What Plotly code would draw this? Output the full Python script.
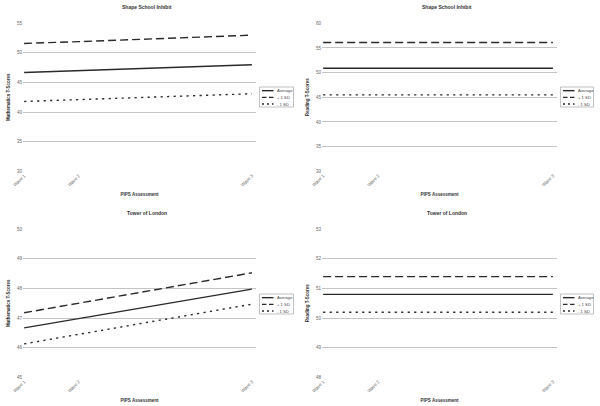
import plotly.graph_objects as go
from plotly.subplots import make_subplots

# ---- data ----
wave_labels = ["Wave 1", "Wave 2", "Wave 3"]
wave_pos = [0, 0.24, 1]
series_names = ["Average", "+ 1 SD", "- 1 SD"]

panel_titles = ["Shape School Inhibit", "Shape School Inhibit", "Tower of London", "Tower of London"]
y_titles = ["Mathematics T-Scores", "Reading T-Scores", "Mathematics T-Scores", "Reading T-Scores"]

# values at Wave 1, Wave 2, Wave 3
ssi_math_avg = [46.7, 47.0, 48.0]
ssi_math_plus = [51.6, 51.9, 53.0]
ssi_math_minus = [41.8, 42.1, 43.1]

ssi_read_avg = [50.9, 50.9, 50.9]
ssi_read_plus = [56.1, 56.1, 56.1]
ssi_read_minus = [45.5, 45.5, 45.5]

tol_math_avg = [46.67, 46.98, 47.98]
tol_math_plus = [47.18, 47.50, 48.53]
tol_math_minus = [46.13, 46.45, 47.47]

tol_read_avg = [50.8, 50.8, 50.8]
tol_read_plus = [51.4, 51.4, 51.4]
tol_read_minus = [50.2, 50.2, 50.2]

y_ranges = [[30, 55], [30, 60], [45, 50], [48, 53]]
y_dticks = [5, 5, 1, 1]

panels = [
    (ssi_math_avg, ssi_math_plus, ssi_math_minus),
    (ssi_read_avg, ssi_read_plus, ssi_read_minus),
    (tol_math_avg, tol_math_plus, tol_math_minus),
    (tol_read_avg, tol_read_plus, tol_read_minus),
]

# ---- styling ----
W, H = 600, 406
FONT = "Liberation Sans, Arial, sans-serif"
LINE_COL = "#2a2a2a"
dashes = ["solid", "8px,4px", "2.2px,4.3px"]
legend_dashes = ["solid", "4.5px,2.5px", "2px,3px"]
line_w = 1.4

# panel pixel boxes: (x0, x1, ytop, ybottom)
boxes = [
    (23, 256, 23.3, 171.3),
    (322, 557, 23.3, 171.3),
    (23, 256, 229.3, 377.3),
    (322, 557, 229.3, 377.3),
]
legend_boxes = [
    (259.5, 293.5, 87, 107),
    (560.5, 593.5, 87, 107),
    (259.5, 293.5, 294, 314),
    (560.5, 593.5, 294, 314),
]

def px(x):
    return x / W

def py(y):
    return 1 - y / H

fig = make_subplots(rows=2, cols=2)

shapes = []
annotations = []

for i, (vals, box) in enumerate(zip(panels, boxes)):
    r, c = i // 2 + 1, i % 2 + 1
    for s, (name, v) in enumerate(zip(series_names, vals)):
        fig.add_trace(
            go.Scatter(
                x=wave_pos, y=v, mode="lines", name=name, showlegend=False,
                line=dict(color=LINE_COL, width=line_w, dash=dashes[s]),
            ),
            row=r, col=c,
        )
    x0, x1, yt, yb = box
    ax = "" if i == 0 else str(i + 1)
    fig.layout["xaxis" + ax].update(
        domain=[px(x0), px(x1)], range=[-0.005, 1.018], automargin=False,
        tickvals=wave_pos, ticktext=wave_labels, tickangle=-45,
        showgrid=False, zeroline=False, showline=False, ticks="",
        tickfont=dict(size=4.5, color="#666", family=FONT),
        title=dict(text="<b>PIPS Assessment</b>", font=dict(size=4.5, color="#333", family=FONT), standoff=6),
    )
    fig.layout["yaxis" + ax].update(
        domain=[py(yb), py(yt)], range=y_ranges[i], dtick=y_dticks[i], automargin=False,
        showgrid=True, gridcolor="#c4c4c4", gridwidth=1, zeroline=False, showline=False,
        ticks="", tickfont=dict(size=4.5, color="#666", family=FONT),
        title=dict(text="<b>" + y_titles[i] + "</b>", font=dict(size=4.5, color="#333", family=FONT), standoff=6),
    )
    # panel title
    annotations.append(dict(
        text="<b>" + panel_titles[i] + "</b>", xref="paper", yref="paper",
        x=px((x0 + x1) / 2 + 7), y=py(yt - 16), xanchor="center", yanchor="middle",
        showarrow=False, font=dict(size=5, color="#333", family=FONT),
    ))
    # custom legend
    lx0, lx1, lyt, lyb = legend_boxes[i]
    shapes.append(dict(type="rect", xref="paper", yref="paper",
                       x0=px(lx0), x1=px(lx1), y0=py(lyb), y1=py(lyt),
                       line=dict(color="#999", width=0.6), fillcolor="white"))
    row_h = (lyb - lyt) / 3
    for s, name in enumerate(series_names):
        ry = lyt + row_h * (s + 0.55)
        shapes.append(dict(type="line", xref="paper", yref="paper",
                           x0=px(lx0 + 2.5), x1=px(lx0 + 14), y0=py(ry), y1=py(ry),
                           line=dict(color=LINE_COL, width=line_w, dash=legend_dashes[s])))
        annotations.append(dict(
            text=name, xref="paper", yref="paper", x=px(lx0 + 15), y=py(ry),
            xanchor="left", yanchor="middle", showarrow=False,
            font=dict(size=4.2, color="#444", family=FONT),
        ))

fig.update_layout(
    width=W, height=H, margin=dict(l=0, r=0, t=0, b=0, autoexpand=False),
    paper_bgcolor="white", plot_bgcolor="white",
    shapes=shapes, annotations=annotations, showlegend=False,
    font=dict(family=FONT),
)

fig.write_html(
    "out.html",
    config={"displayModeBar": False},
    post_script="document.body.style.margin='0';document.body.style.overflow='hidden';",
)
